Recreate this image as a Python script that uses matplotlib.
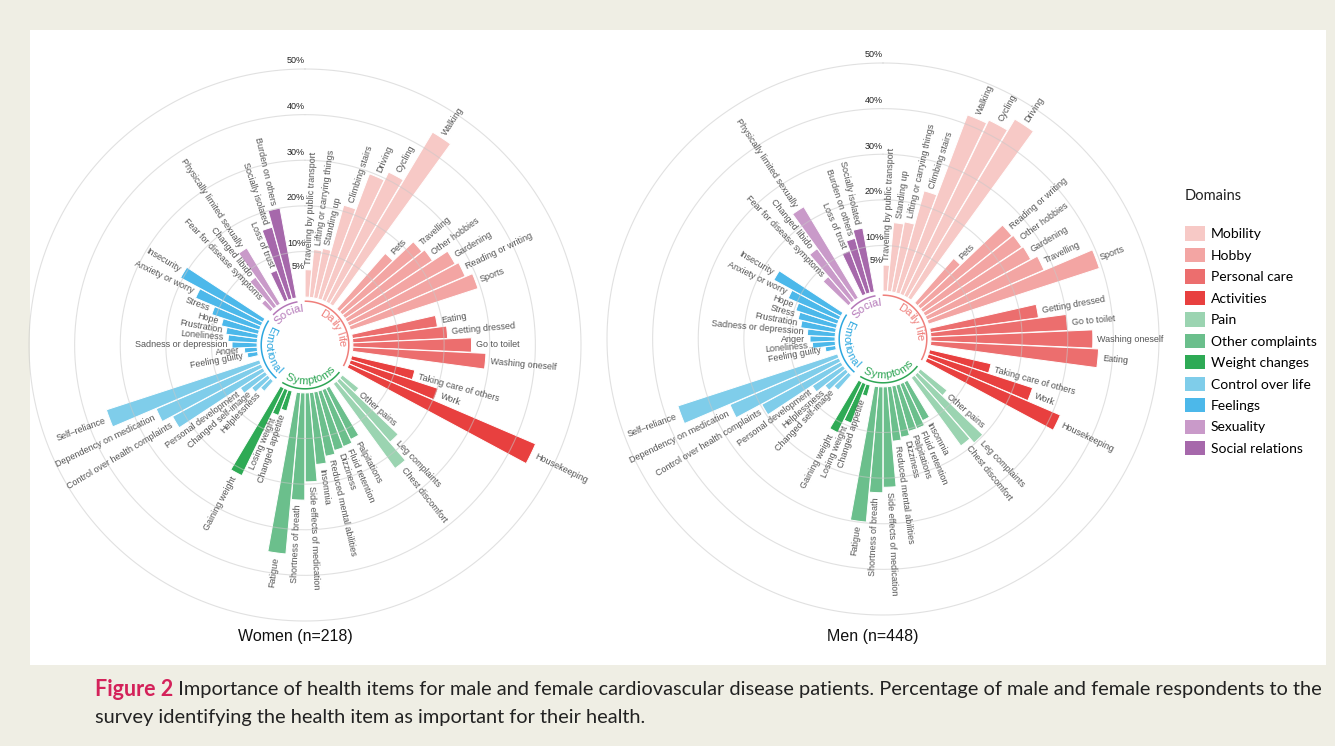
import numpy as np
import matplotlib
matplotlib.use("Agg")
import matplotlib.pyplot as plt
from matplotlib.patches import Patch, Rectangle

plt.rcParams["font.family"] = ["Liberation Sans", "DejaVu Sans"]

# --------------------------------------------------------------------------- #
# Data (percent of respondents), listed clockwise as drawn
# --------------------------------------------------------------------------- #
DOMAINS = ["Daily life", "Symptoms", "Emotional", "Social"]
DOMAIN_COLORS = ["#EF7F7B", "#2EA655", "#2DA7DF", "#B477B8"]

SUBDOMAINS = ["Mobility", "Hobby", "Personal care", "Activities", "Pain",
              "Other complaints", "Weight changes", "Control over life",
              "Feelings", "Sexuality", "Social relations"]
SUB_DOMAIN = [0, 0, 0, 0, 1, 1, 1, 2, 2, 3, 3]
SUB_SIZES = [7, 6, 4, 3, 3, 8, 3, 6, 9, 3, 3]
SUB_COLORS = ["#F7C9C6", "#F3A5A3", "#EC6E6E", "#E8403F", "#9BD4B1",
              "#6BBF8C", "#2EAA55", "#7FCDEA", "#4CB8EA", "#C99AC9", "#A668AB"]

women_items = [
    "Traveling by public transport", "Lifting or carrying things", "Standing up",
    "Climbing stairs", "Driving", "Cycling", "Walking",
    "Pets", "Travelling", "Other hobbies", "Gardening", "Reading or writing", "Sports",
    "Eating", "Getting dressed", "Go to toilet", "Washing oneself",
    "Taking care of others", "Work", "Housekeeping",
    "Other pains", "Leg complaints", "Chest discomfort",
    "Palpitations", "Fluid retention", "Dizziness", "Reduced mental abilities",
    "Insomnia", "Side effects of medication", "Shortness of breath", "Fatigue",
    "Changed appetite", "Losing weight", "Gaining weight",
    "Helplessness", "Changed self-image", "Personal development",
    "Control over health complaints", "Dependency on medication", "Self\u2013reliance",
    "Feeling guilty", "Anger", "Sadness or depression", "Loneliness", "Frustration",
    "Hope", "Stress", "Anxiety or worry", "Insecurity",
    "Fear for disease symptoms", "Changed libido", "Physically limited sexually",
    "Loss of trust", "Socially isolated", "Burden on others",
]
women_values = [
    6.0, 10.5, 11.0, 21.3, 29.6, 31.6, 43.9,
    16.2, 22.3, 23.0, 26.9, 27.7, 29.4,
    18.8, 20.8, 26.0, 29.2,
    14.2, 20.2, 44.5,
    4.6, 17.8, 23.0,
    12.5, 13.3, 13.5, 14.3, 15.8, 19.5, 23.5, 35.5,
    4.5, 6.0, 21.3,
    3.0, 4.5, 6.5, 22.5, 25.0, 35.3,
    2.3, 2.8, 5.5, 6.4, 7.0, 8.3, 11.0, 15.6, 20.5,
    2.7, 7.9, 14.3,
    7.0, 16.3, 20.0,
]

men_items = [
    "Traveling by public transport", "Standing up", "Lifting or carrying things",
    "Climbing stairs", "Walking", "Cycling", "Driving",
    "Pets", "Reading or writing", "Other hobbies", "Gardening", "Travelling", "Sports",
    "Getting dressed", "Go to toilet", "Washing oneself", "Eating",
    "Taking care of others", "Work", "Housekeeping",
    "Other pains", "Leg complaints", "Chest discomfort",
    "Insomnia", "Fluid retention", "Palpitations", "Dizziness",
    "Reduced mental abilities", "Side effects of medication", "Shortness of breath", "Fatigue",
    "Changed appetite", "Losing weight", "Gaining weight",
    "Changed self-image", "Helplessness", "Personal development",
    "Control over health complaints", "Dependency on medication", "Self\u2013reliance",
    "Feeling guilty", "Loneliness", "Anger", "Sadness or depression", "Frustration",
    "Stress", "Hope", "Anxiety or worry", "Insecurity",
    "Fear for disease symptoms", "Changed libido", "Physically limited sexually",
    "Loss of trust", "Burden on others", "Socially isolated",
]
men_values = [
    5.7, 15.1, 15.6, 23.2, 42.0, 42.8, 45.7,
    13.0, 25.7, 26.0, 26.3, 27.9, 39.4,
    23.9, 30.0, 35.5, 36.8,
    13.8, 24.0, 31.8,
    7.5, 19.8, 18.5,
    9.4, 10.5, 10.5, 11.4, 12.0, 22.0, 23.2, 29.8,
    2.5, 9.2, 12.3,
    4.4, 5.8, 8.1, 19.7, 26.0, 36.8,
    2.3, 5.0, 5.5, 6.1, 7.7, 8.6, 9.6, 12.1, 16.7,
    7.7, 14.0, 23.3,
    10.2, 12.4, 14.2,
]

GRID_LEVELS = [10, 20, 30, 40, 50]
TICK_LEVELS = [5, 10, 20, 30, 40, 50]

SLOTS = 70          # bars + empty spacer slots round the circle
R_HOLE = 10.5       # empty centre, in percent units
STEP = 2 * np.pi / SLOTS
DPI = 100


def slot_index():
    """Slot of every bar: one empty slot between subdomains, two after a domain."""
    pos, k = [], 0
    for d in range(len(DOMAINS)):
        subs = [s for s in range(len(SUBDOMAINS)) if SUB_DOMAIN[s] == d]
        for j, s in enumerate(subs):
            for _ in range(SUB_SIZES[s]):
                pos.append(k)
                k += 1
            if j < len(subs) - 1:
                k += 1
        k += 2
    return np.array(pos)


def curved_text(ax, label, mid_deg, r, color, fs, px_per_unit):
    renderer = ax.figure.canvas.get_renderer()
    prop = matplotlib.font_manager.FontProperties(family=["Liberation Sans"], size=fs)

    def width(s):
        if not s:
            return 0.0
        w, _, _ = renderer.get_text_width_height_descent(s, prop, ismath=False)
        return w

    total = width(label)
    r_px = (r + R_HOLE) * px_per_unit
    top = np.cos(np.deg2rad(mid_deg)) >= 0
    for i, ch in enumerate(label):
        if ch == " ":
            continue
        centre = width(label[:i]) + width(ch) / 2 - total / 2
        off = np.rad2deg(centre / r_px)
        a = mid_deg + off if top else mid_deg - off
        rot = -a if top else 180 - a
        ax.text(np.deg2rad(a), r, ch, fontproperties=prop, color=color,
                rotation=rot, rotation_mode="anchor", ha="center", va="center")


def draw_wheel(ax, items, values, px_per_unit):
    pos = slot_index()
    theta = (pos + 0.5) * STEP
    sub_of_bar = np.repeat(np.arange(len(SUBDOMAINS)), SUB_SIZES)
    colors = [SUB_COLORS[s] for s in sub_of_bar]

    ax.set_theta_zero_location("N")
    ax.set_theta_direction(-1)
    ax.set_ylim(-R_HOLE, 50)
    ax.set_axis_off()

    ax.bar(theta, values, width=STEP * 0.97, bottom=0, color=colors,
           edgecolor="white", linewidth=0.7, zorder=2)

    # circular grid, drawn over the bars like in the original
    full = np.linspace(0, 2 * np.pi, 500)
    for lvl in GRID_LEVELS:
        ax.plot(full, np.full_like(full, lvl), color="#C8C8C8", lw=0.8,
                alpha=0.55, zorder=3, clip_on=False)

    for t in TICK_LEVELS:
        ax.text(0, t + 1.8, f"{t}%", ha="right", va="center", fontsize=6.5,
                color="#222222")

    # item labels along the bars
    for th, v, name in zip(theta, values, items):
        a = np.rad2deg(th)
        if a < 180:
            rot, ha = 90 - a, "left"
        else:
            rot, ha = 270 - a, "right"
        ax.text(th, v + 1.0, name, rotation=rot, rotation_mode="anchor",
                ha=ha, va="center", fontsize=6.5, color="#555555")

    # domain arcs and curved labels round the hole
    dom_of_bar = np.array([SUB_DOMAIN[s] for s in sub_of_bar])
    for d, name in enumerate(DOMAINS):
        p = pos[dom_of_bar == d]
        t0, t1 = p.min() * STEP + 0.01, (p.max() + 1) * STEP - 0.01
        arc = np.linspace(t0, t1, 100)
        ax.plot(arc, np.full_like(arc, -0.9), color=DOMAIN_COLORS[d], lw=1.1,
                zorder=3)
        mid = np.rad2deg((t0 + t1) / 2)
        curved_text(ax, name, mid, -2.5, DOMAIN_COLORS[d], 8, px_per_unit)


# --------------------------------------------------------------------------- #
# Figure
# --------------------------------------------------------------------------- #
W, H = 1335, 746
fig = plt.figure(figsize=(W / DPI, H / DPI), dpi=DPI, facecolor="#EFEEE4")

bg = fig.add_axes([0, 0, 1, 1])
bg.set_xlim(0, W)
bg.set_ylim(H, 0)
bg.axis("off")
bg.add_patch(Rectangle((30, 30), 1296, 635, facecolor="white", edgecolor="none"))

RADIUS_PX = 276
px_per_unit = RADIUS_PX / (50 + R_HOLE)
size = 2 * RADIUS_PX

centres = [(305, 345), (883, 339)]
for (cx, cy), items, vals, title in zip(
        centres, [women_items, men_items], [women_values, men_values],
        ["Women (n=218)", "Men (n=448)"]):
    ax = fig.add_axes([(cx - RADIUS_PX) / W, (H - cy - RADIUS_PX) / H,
                       size / W, size / H], projection="polar")
    ax.patch.set_alpha(0)
    draw_wheel(ax, items, vals, px_per_unit)
    bg.text(cx - 10, 636, title, ha="center", va="center", fontsize=11.5,
            color="#111111")

# legend
bg.text(1185, 196, "Domains", fontsize=10.5, family="Lato", color="#222222",
        va="center", ha="left")
handles = [Patch(facecolor=c, edgecolor="none") for c in SUB_COLORS]
fig.legend(handles, SUBDOMAINS, loc="upper left",
           bbox_to_anchor=(1172 / W, 1 - 214 / H), frameon=False,
           prop={"family": "Lato", "size": 10},
           handlelength=1.45, handleheight=1.2, labelspacing=0.52,
           handletextpad=0.45)

# caption
t1 = bg.text(95, 690, "Figure 2", fontsize=15.5, fontweight="bold",
             color="#D4225A", family="Lato", va="center")
bg.annotate(" Importance of health items for male and female cardiovascular disease "
            "patients. Percentage of male and female respondents to the",
            xy=(1, 0.5), xycoords=t1, va="center", fontsize=14.4,
            family="Lato", color="#222222")
bg.text(95, 718, "survey identifying the health item as important for their health.",
        fontsize=14.4, family="Lato", color="#222222", va="center")

fig.savefig("out.png", dpi=DPI, facecolor=fig.get_facecolor())
